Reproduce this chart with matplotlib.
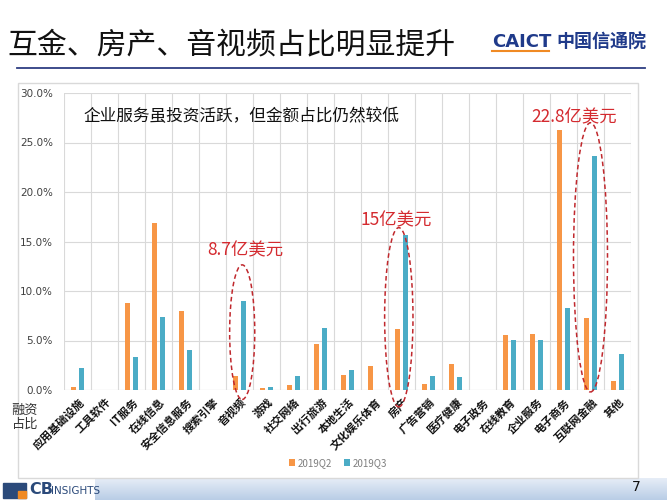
import numpy as np
import matplotlib
matplotlib.use("Agg")
import matplotlib.pyplot as plt
from matplotlib.patches import Ellipse, Rectangle
from matplotlib.colors import LinearSegmentedColormap

plt.rcParams['font.family'] = ['Noto Sans CJK SC', 'DejaVu Sans']

categories = ['应用基础设施', '工具软件', 'IT服务', '在线信息', '安全信息服务', '搜索引擎',
              '音视频', '游戏', '社交网络', '出行旅游', '本地生活', '文化娱乐体育', '房产',
              '广告营销', '医疗健康', '电子政务', '在线教育', '企业服务', '电子商务',
              '互联网金融', '其他']
q2 = [0.27, 0.0, 8.8, 16.9, 8.0, 0.0, 1.45, 0.23, 0.5, 4.6, 1.5, 2.45, 6.2,
      0.57, 2.65, 0.0, 5.57, 5.7, 26.25, 7.3, 0.9]
q3 = [2.2, 0.0, 3.35, 7.4, 4.0, 0.0, 9.0, 0.27, 1.4, 6.3, 2.0, 0.0, 15.7,
      1.45, 1.3, 0.0, 5.1, 5.07, 8.3, 23.6, 3.6]
series_names = ['2019Q2', '2019Q3']
yticks = [0, 5, 10, 15, 20, 25, 30]
ytick_labels = ['0.0%', '5.0%', '10.0%', '15.0%', '20.0%', '25.0%', '30.0%']

W, H = 667, 500
fig = plt.figure(figsize=(W / 100, H / 100), dpi=100)

def fx(x):
    return x / W

def fy(y):
    return 1 - y / H

# chart border
fig.patches.append(Rectangle((fx(18), fy(478)), (638 - 18) / W, (478 - 83) / H,
                             transform=fig.transFigure, fill=False,
                             edgecolor='#D9D9D9', lw=1.0))

ax = fig.add_axes([fx(64), fy(390), (631 - 64) / W, (390 - 93) / H])
x = np.arange(len(categories))
bw = 0.21
ax.bar(x - 0.145, q2, width=bw, color='#F79646', label=series_names[0], zorder=3)
ax.bar(x + 0.145, q3, width=bw, color='#4BACC6', label=series_names[1], zorder=3)
ax.set_xlim(-0.5, len(categories) - 0.5)
ax.set_ylim(0, 30)
ax.set_yticks(yticks)
ax.set_yticklabels(ytick_labels, fontsize=7.5, color='#404040', family=['DejaVu Sans'])
ax.set_xticks(x)
ax.set_xticklabels(categories, rotation=45, ha='right', rotation_mode='anchor',
                   fontsize=8, fontweight='bold', color='#111111')
ax.set_xticks(np.arange(-0.5, len(categories), 1), minor=True)
ax.tick_params(axis='both', which='both', length=0)
ax.tick_params(axis='x', pad=4)
ax.tick_params(axis='y', pad=8)
ax.grid(axis='y', which='major', color='#D9D9D9', lw=0.8, zorder=0)
ax.grid(axis='x', which='minor', color='#D9D9D9', lw=0.8, zorder=0)
for s in ax.spines.values():
    s.set_visible(False)
ax.axhline(0, color='#D9D9D9', lw=0.8, zorder=1)

# dashed ellipses
red = '#D42A2F'
for (cx, cy, w, h) in [(6.1, 5.84, 0.93, 13.6), (11.9, 7.35, 1.05, 18.1), (19.0, 13.4, 1.26, 27.2)]:
    ax.add_patch(Ellipse((cx, cy), w, h, fill=False, edgecolor='#C0282D', ls=(0, (3, 2)),
                         lw=1.1, clip_on=False, zorder=5))

ax.text(6.2, 14.1, '8.7亿美元', color=red, fontsize=12.5, ha='center', va='center')
ax.text(11.8, 17.1, '15亿美元', color=red, fontsize=12.5, ha='center', va='center')
ax.text(18.4, 27.5, '22.8亿美元', color=red, fontsize=12.5, ha='center', va='center')

fig.text(fx(83), fy(117), '企业服务虽投资活跃，但金额占比仍然较低', fontsize=12,
         ha='left', va='center', color='#111111')

# y label
fig.text(fx(25), fy(417), '融资\n占比', fontsize=9.5, ha='center', va='center',
         color='#333333', linespacing=1.1)

# legend
leg = fig.legend(loc='center', bbox_to_anchor=(fx(338), fy(463)), ncol=2, frameon=False,
                 fontsize=7, handlelength=0.6, handleheight=0.6, handletextpad=0.3,
                 columnspacing=1.2)
for t in leg.get_texts():
    t.set_color('#7F7F7F')

# title
fig.text(fx(7), fy(45), '互金、房产、音视频占比明显提升', fontsize=21.5, ha='left',
         va='center', color='#111111')
fig.add_artist(plt.Line2D([fx(17), fx(645)], [fy(68), fy(68)], color='#2E3E82', lw=1.3,
                          transform=fig.transFigure))

# CAICT logo
fig.text(fx(492), fy(42), 'CAICT', fontsize=13, fontweight='bold', color='#1F3A8A',
         ha='left', va='center', family=['DejaVu Sans'])
fig.add_artist(plt.Line2D([fx(492), fx(549)], [fy(51), fy(51)], color='#F08A24', lw=1.5,
                          transform=fig.transFigure))
fig.text(fx(556), fy(42), '中国信通院', fontsize=13, fontweight='bold', color='#1F3A8A',
         ha='left', va='center')

# footer band
fax = fig.add_axes([fx(95), 0, (W - 95) / W, 22 / H])
grad = np.linspace(0, 1, 50).reshape(-1, 1)
cmap = LinearSegmentedColormap.from_list('f', ['#E6EDF7', '#B9CDE6'])
fax.imshow(grad, aspect='auto', cmap=cmap, extent=[0, 1, 0, 1], origin='upper')
fax.set_axis_off()

# CB insights logo
fig.patches.append(Rectangle((fx(3), fy(498)), 23 / W, 15 / H, transform=fig.transFigure,
                             color='#2B4A7A'))
fig.patches.append(Rectangle((fx(18), fy(498)), 8 / W, 7 / H, transform=fig.transFigure,
                             color='#F08A24'))
fig.text(fx(29), fy(490), 'CB', fontsize=11.5, fontweight='bold', color='#2B4A7A',
         ha='left', va='center', family=['DejaVu Sans'])
fig.text(fx(51), fy(491), 'INSIGHTS', fontsize=7.5, color='#2B4A7A',
         ha='left', va='center', family=['DejaVu Sans'])

fig.text(fx(636), fy(487), '7', fontsize=10, color='#111111', ha='center', va='center',
         family=['DejaVu Sans'])

fig.savefig('out.png', dpi=100)
